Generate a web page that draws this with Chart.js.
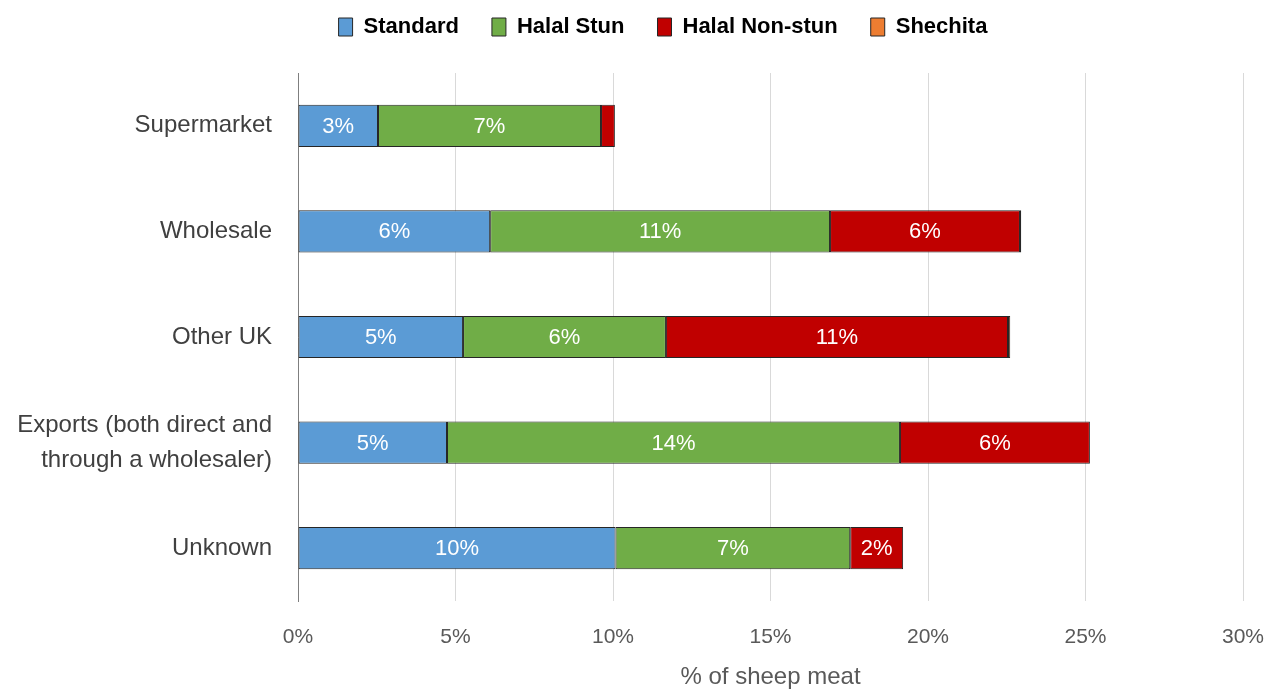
<!DOCTYPE html>
<html>
<head>
<meta charset="utf-8">
<script src="https://cdn.jsdelivr.net/npm/chart.js@4.4.0/dist/chart.umd.min.js"></script>
<style>
  html, body { margin: 0; padding: 0; background: #fff; }
  #wrap { width: 1268px; height: 689px; }
</style>
</head>
<body>
<div id="wrap"><canvas id="Grafica" width="1268" height="689"></canvas></div>
<script>
// categorias y valores (% of sheep meat)
const categorias = ['Supermarket', 'Wholesale', 'Other UK', ['Exports (both direct and', 'through a wholesaler)'], 'Unknown'];
const standard    = [2.54, 6.10, 5.24, 4.73, 10.08];
const halalStun   = [7.08, 10.79, 6.44, 14.38, 7.45];
const halalNonStun = [0.44, 6.03, 10.86, 6.03, 1.68];
const shechita    = [0.00, 0.04, 0.07, 0.00, 0.00];
const ticksX = [0, 5, 10, 15, 20, 25, 30];

const fuente = "'Liberation Sans', Arial, sans-serif";

// etiquetas blancas dentro de las barras
const etiquetas = {
    id: 'etiquetas',
    afterDatasetsDraw(chart) {
        const ctx = chart.ctx;
        ctx.save();
        ctx.fillStyle = '#ffffff';
        ctx.font = '22px ' + fuente;
        ctx.textAlign = 'center';
        ctx.textBaseline = 'middle';
        for (let d = 0; d < 3; d++) {
            const meta = chart.getDatasetMeta(d);
            meta.data.forEach(function(bar, i) {
                const v = chart.data.datasets[d].data[i];
                if (v < 1) return;
                ctx.fillText(Math.round(v) + '%', (bar.x + bar.base) / 2, bar.y + 1);
            });
        }
        ctx.restore();
    }
};

// alto fijo de la leyenda y corrimiento a la derecha
const leyendaAlto = {
    id: 'leyendaAlto',
    beforeInit(chart) {
        const f = chart.legend.fit;
        chart.legend.fit = function() {
            f.bind(chart.legend)();
            this.height = 90;
        };
    },
    afterLayout(chart) {
        chart.legend.left += 29;
        chart.legend.right += 29;
    }
};

const ctx = document.getElementById('Grafica').getContext('2d');
const grafica = new Chart(ctx, {
    type: 'bar',
    data: {
        labels: categorias,
        datasets: [
            { label: 'Standard', data: standard, backgroundColor: '#5B9BD5' },
            { label: 'Halal Stun', data: halalStun, backgroundColor: '#70AD47' },
            { label: 'Halal Non-stun', data: halalNonStun, backgroundColor: '#C00000' },
            { label: 'Shechita', data: shechita, backgroundColor: '#ED7D31' }
        ].map(function(ds) {
            ds.borderColor = '#262626';
            ds.borderWidth = 1;
            ds.borderSkipped = false;
            ds.categoryPercentage = 0.5;
            ds.barPercentage = 0.8;
            return ds;
        })
    },
    options: {
        indexAxis: 'y',
        responsive: false,
        animation: false,
        devicePixelRatio: 1,
        layout: { padding: { left: 0, right: 0, top: -17, bottom: 0 } },
        scales: {
            x: {
                stacked: true,
                min: 0,
                max: 30,
                afterBuildTicks: function(scale) {
                    scale.ticks = ticksX.map(function(v) { return { value: v }; });
                },
                afterFit: function(scale) {
                    scale.height = 88;
                    scale.paddingLeft = 0;
                    scale.paddingRight = 25;
                },
                grid: { color: '#d9d9d9', lineWidth: 1, drawTicks: false },
                border: { display: false },
                ticks: {
                    color: '#595959',
                    font: { family: fuente, size: 21 },
                    padding: 24,
                    callback: function(v) { return v + '%'; }
                },
                title: {
                    display: true,
                    text: '% of sheep meat',
                    color: '#595959',
                    font: { family: fuente, size: 24, lineHeight: 1.0 },
                    padding: { top: 0, bottom: 0 }
                }
            },
            y: {
                stacked: true,
                afterFit: function(scale) { scale.width = 298; },
                grid: { display: false, drawTicks: false },
                border: { display: true, color: '#7f7f7f', width: 1 },
                ticks: {
                    color: '#404040',
                    font: { family: fuente, size: 24, lineHeight: 1.45 },
                    padding: 26
                }
            }
        },
        plugins: {
            legend: {
                position: 'top',
                labels: {
                    color: '#000000',
                    font: { family: fuente, size: 22, weight: 'bold' },
                    boxWidth: 14,
                    boxHeight: 18,
                    padding: 33,
                    generateLabels: function(chart) {
                        return chart.data.datasets.map(function(ds, i) {
                            return {
                                text: ds.label,
                                fillStyle: ds.backgroundColor,
                                strokeStyle: '#262626',
                                lineWidth: 1,
                                datasetIndex: i,
                                fontColor: '#000000'
                            };
                        });
                    }
                }
            },
            tooltip: { enabled: false }
        }
    },
    plugins: [etiquetas, leyendaAlto]
});
</script>
</body>
</html>
